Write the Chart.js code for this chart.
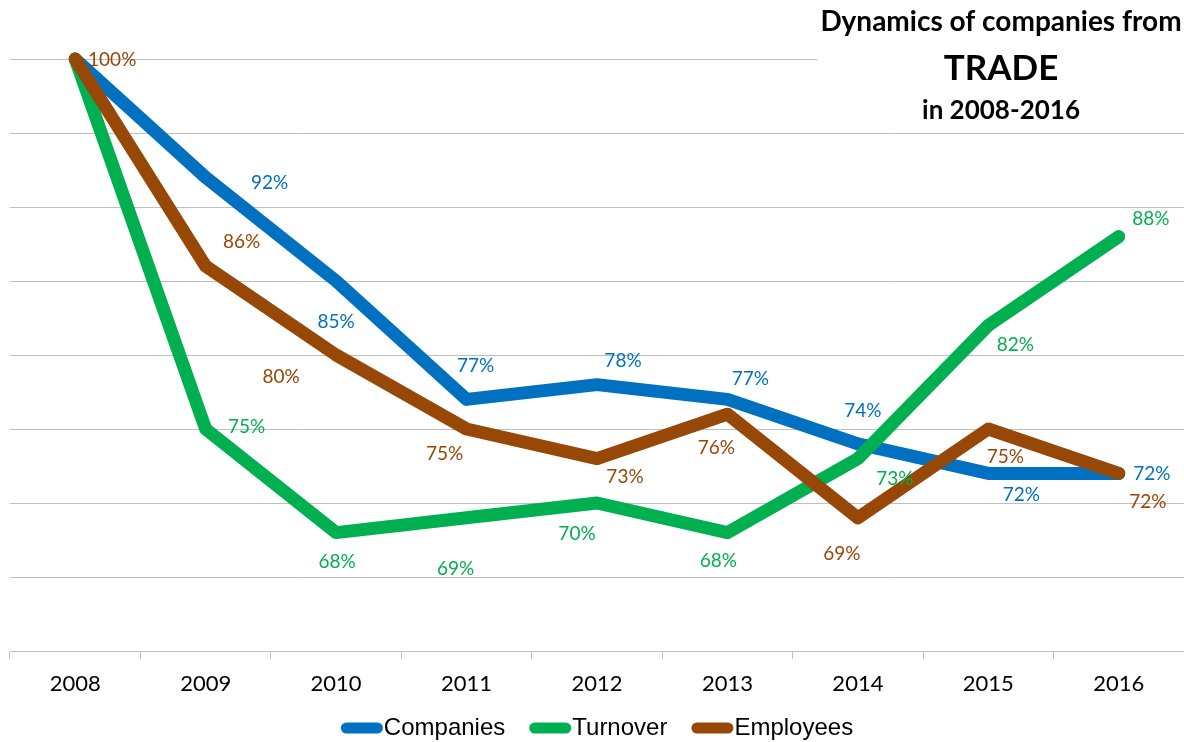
<!DOCTYPE html>
<html>
<head>
<meta charset="utf-8">
<title>Dynamics of companies from TRADE in 2008-2016</title>
<script src="https://cdn.jsdelivr.net/npm/chart.js@4.4.1/dist/chart.umd.min.js"></script>
<style>
  html, body { margin: 0; padding: 0; background: #fff; }
  #myChart { display: block; }
</style>
</head>
<body>
<canvas id="myChart" width="1184" height="742"></canvas>
<script>
// yearly index, 2008 = 100%
const years = ['2008', '2009', '2010', '2011', '2012', '2013', '2014', '2015', '2016'];
const companies = [100, 92, 85, 77, 78, 77, 74, 72, 72];
const turnover = [100, 75, 68, 69, 70, 68, 73, 82, 88];
const employees = [100, 86, 80, 75, 73, 76, 69, 75, 72];
const seriesNames = ['Companies', 'Turnover', 'Employees'];
const titleLines = ['Dynamics of companies from', 'TRADE', 'in 2008-2016'];

const colors = ['#0070C0', '#00B050', '#974706'];

// where each value label sits, relative to its point (null = no label)
const labelNudge = [
    [null, [64, 5], [0, 41], [9, -34], [26, -24], [23, -21], [5, -33], [33, 21], [33, 0]],
    [null, [41, -2], [1, 29], [-11, 51], [-20, 31], [-9, 28], [37, 20], [27, 19], [32, -18]],
    [[37, 1], [36, -24], [-55, 22], [-22, 25], [28, 18], [-11, 34], [-16, 36], [17, 28], [29, 28]]
];

const gridColor = '#BFBFBF';

// title box in the upper right corner, sits over the top grid line
const titleBox = {
    id: 'titleBox',
    beforeDatasetsDraw(chart) {
        const ctx = chart.ctx;
        ctx.save();
        ctx.fillStyle = '#fff';
        ctx.fillRect(817, 0, chart.width - 817, 124);
        ctx.fillStyle = '#000';
        ctx.textAlign = 'center';
        ctx.textBaseline = 'alphabetic';
        ctx.font = 'bold 28px Lato';
        ctx.fillText(titleLines[0], 1001, 31);
        ctx.font = 'bold 35px Lato';
        ctx.fillText(titleLines[1], 1001, 80);
        ctx.font = 'bold 26px Lato';
        ctx.fillText(titleLines[2], 1001, 119);
        ctx.restore();
    }
};

// percentage labels next to the points
const valueLabels = {
    id: 'valueLabels',
    afterDatasetsDraw(chart) {
        const ctx = chart.ctx;
        ctx.save();
        ctx.font = '19px Lato';
        ctx.textAlign = 'center';
        ctx.textBaseline = 'middle';
        chart.data.datasets.forEach((ds, i) => {
            const meta = chart.getDatasetMeta(i);
            ctx.fillStyle = ds.borderColor;
            meta.data.forEach((pt, j) => {
                const n = labelNudge[i][j];
                if (!n) return;
                ctx.fillText(Math.round(ds.data[j]) + '%', pt.x + n[0], pt.y + n[1]);
            });
        });
        ctx.restore();
    }
};

// legend with thick line markers under the axis
const lineLegend = {
    id: 'lineLegend',
    afterDraw(chart) {
        const ctx = chart.ctx;
        const area = chart.chartArea;
        const markW = 42, gap = 24, lw = 11;
        ctx.save();
        ctx.font = '24px "Liberation Sans", Arial, sans-serif';
        const items = chart.data.datasets.map(ds => ({
            text: ds.label,
            color: ds.borderColor,
            w: markW + 1 + ctx.measureText(ds.label).width
        }));
        const total = items.reduce((s, it) => s + it.w, 0) + gap * (items.length - 1);
        let x = (area.left + area.right) / 2 - total / 2;
        const y = 728;
        items.forEach(it => {
            ctx.strokeStyle = it.color;
            ctx.lineWidth = lw;
            ctx.lineCap = 'round';
            ctx.beginPath();
            ctx.moveTo(x + lw / 2, y);
            ctx.lineTo(x + markW - lw / 2, y);
            ctx.stroke();
            ctx.fillStyle = '#000';
            ctx.textAlign = 'left';
            ctx.textBaseline = 'middle';
            ctx.fillText(it.text, x + markW + 1, y);
            x += it.w + gap;
        });
        ctx.restore();
    }
};

const series = [companies, turnover, employees];

new Chart(document.getElementById('myChart'), {
    type: 'line',
    data: {
        labels: years,
        datasets: series.map((values, i) => ({
            label: seriesNames[i],
            data: values,
            borderColor: colors[i],
            backgroundColor: colors[i],
            borderWidth: 13,
            borderCapStyle: 'round',
            borderJoinStyle: 'round',
            pointRadius: 0,
            pointHoverRadius: 0,
            tension: 0,
            clip: false,
            order: 3 - i
        }))
    },
    options: {
        responsive: false,
        animation: false,
        devicePixelRatio: 1,
        layout: {
            padding: { left: 10, right: 0, top: 59, bottom: 41 }
        },
        plugins: {
            legend: { display: false },
            title: { display: false },
            tooltip: { enabled: false }
        },
        scales: {
            x: {
                offset: true,
                grid: {
                    display: true,
                    offset: true,
                    drawOnChartArea: false,
                    drawTicks: true,
                    tickLength: 8,
                    color: gridColor
                },
                border: { color: gridColor },
                ticks: {
                    color: '#000',
                    padding: 12,
                    font: { family: 'Lato', size: 22 }
                },
                afterFit(scale) { scale.height = 50; }
            },
            y: {
                min: 60,
                max: 100,
                ticks: { stepSize: 5, display: false },
                grid: { color: gridColor, drawTicks: false },
                border: { display: false },
                afterFit(scale) { scale.width = 0; }
            }
        }
    },
    plugins: [titleBox, valueLabels, lineLegend]
});
</script>
</body>
</html>
